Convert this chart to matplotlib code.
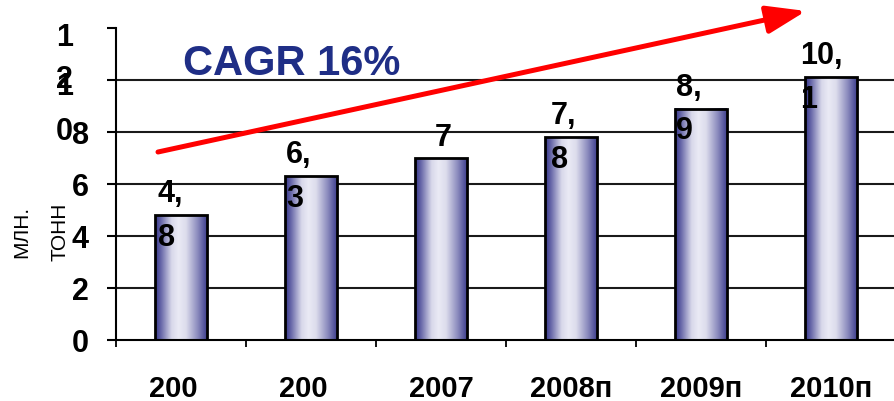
import matplotlib
matplotlib.use("Agg")
import matplotlib.pyplot as plt
import matplotlib.transforms as mtransforms
import numpy as np
from matplotlib.colors import LinearSegmentedColormap
from matplotlib.patches import Rectangle

# data
years = ["200", "200", "2007", "2008п", "2009п", "2010п"]
volumes = [4.8, 6.3, 7.0, 7.8, 8.9, 10.1]
value_labels = ["4,\n8", "6,\n3", "7", "7,\n8", "8,\n9", "10,\n1"]
y_ticks = [0, 2, 4, 6, 8, 10, 12]
y_tick_labels = ["0", "2", "4", "6", "8", "1\n0", "1\n2"]
y_label = "МЛН.\nТОНН"
cagr_text = "CAGR 16%"

plt.rcParams["font.family"] = ["Liberation Sans", "DejaVu Sans"]

DPI = 100
fig = plt.figure(figsize=(8.94, 4.02), dpi=DPI)
# axes runs from x=116px to 896px, y=29px (12) to 341px (0)
ax = fig.add_axes([116 / 894, 1 - 341 / 402, 780 / 894, 312 / 402])

bar_cmap = LinearSegmentedColormap.from_list(
    "cyl",
    [(0.0, "#34348a"), (0.12, "#6a6aaa"), (0.32, "#d8d8ea"), (0.45, "#eaeaf5"),
     (0.6, "#dcdcec"), (0.82, "#8c8cbe"), (1.0, "#40408e")])
grad = np.linspace(0, 1, 256)[None, :]

xs = np.arange(len(years))
bw = 0.4
for x, v in zip(xs, volumes):
    ax.imshow(grad, cmap=bar_cmap, aspect="auto", extent=[x - bw / 2, x + bw / 2, 0, v],
              zorder=2, interpolation="bilinear")
    ax.add_patch(Rectangle((x - bw / 2, 0), bw, v, fill=False, edgecolor="black",
                           linewidth=2.0, zorder=3))

ax.set_xlim(-0.5, len(years) - 0.5)
ax.set_ylim(0, 12)

# gridlines
for g in [2, 4, 6, 8, 10]:
    ax.axhline(g, color="#1a1a1a", linewidth=1.5, zorder=1)

for s in ["top", "right"]:
    ax.spines[s].set_visible(False)
ax.spines["left"].set_linewidth(1.5)
ax.spines["bottom"].set_linewidth(1.5)
ax.spines["bottom"].set_zorder(4)

# y ticks (the two wrapped labels are drawn by hand, as in the source)
ax.set_yticks(y_ticks)
ax.set_yticklabels([l if "\n" not in l else "" for l in y_tick_labels],
                   fontsize=22, fontweight="bold")
ax.tick_params(axis="y", length=9 * 0.72, width=1.5, pad=18 * 0.72)
ytr = ax.get_yaxis_transform()
wrap_style = {10: (9, 1.65), 12: (6, 1.5)}
for t, l in zip(y_ticks, y_tick_labels):
    if "\n" in l:
        off, ls = wrap_style[t]
        tr = ytr + mtransforms.ScaledTranslation(0, off / DPI, fig.dpi_scale_trans)
        ax.text(-43 / 780, t, l, transform=tr, ha="right", va="top", fontsize=22,
                fontweight="bold", linespacing=ls, multialignment="right")

# x ticks: boundary marks + labels
ax.set_xticks(xs)
ax.set_xticklabels([])
ax.tick_params(axis="x", which="major", length=0)
ax.set_xticks(np.arange(-0.5, len(years)), minor=True)
ax.tick_params(axis="x", which="minor", length=7 * 0.72, width=1.3)
xtr = ax.get_xaxis_transform()
for x, lab in zip(xs, years):
    dx = -8 if len(lab) == 3 else 0
    tr = xtr + mtransforms.ScaledTranslation(dx / DPI, -48 / DPI, fig.dpi_scale_trans)
    ax.text(x, 0, lab, transform=tr, ha="center", va="center", fontsize=21,
            fontweight="bold")

# value labels over the bars
dtr = ax.transData
x_off = [3, 1, None, 6, 1, -5]
for x, v, lab, o in zip(xs, volumes, value_labels, x_off):
    if o is None:
        tr = dtr + mtransforms.ScaledTranslation(2 / DPI, 36 / DPI, fig.dpi_scale_trans)
        ax.text(x, v, lab, transform=tr, ha="center", va="top", fontsize=22,
                fontweight="bold", zorder=5)
    else:
        tr = dtr + mtransforms.ScaledTranslation(o / DPI, 37 / DPI, fig.dpi_scale_trans)
        ax.text(x - bw / 2, v, lab, transform=tr, ha="left", va="top", fontsize=22,
                fontweight="bold", linespacing=1.6, zorder=5)

# axis title
ax.text(-75 / 780, 0.35, y_label, transform=ax.transAxes, rotation=90, ha="center",
        va="center", fontsize=15, linespacing=2.3)

# CAGR annotation and trend arrow
ax.text(67 / 780, (341 - 75) / 312, cagr_text, transform=ax.transAxes, ha="left",
        va="baseline", fontsize=30, fontweight="bold", color="#1f2e86")
ax.annotate("", xy=(690 / 780, 329 / 312), xytext=(42 / 780, 188 / 312),
            xycoords="axes fraction", textcoords="axes fraction",
            arrowprops=dict(arrowstyle="-|>,head_length=24,head_width=8.5",
                            mutation_scale=1, color="#ff0000", linewidth=3.6,
                            shrinkA=0, shrinkB=0),
            annotation_clip=False, zorder=6)

fig.savefig("out.png", dpi=DPI)
